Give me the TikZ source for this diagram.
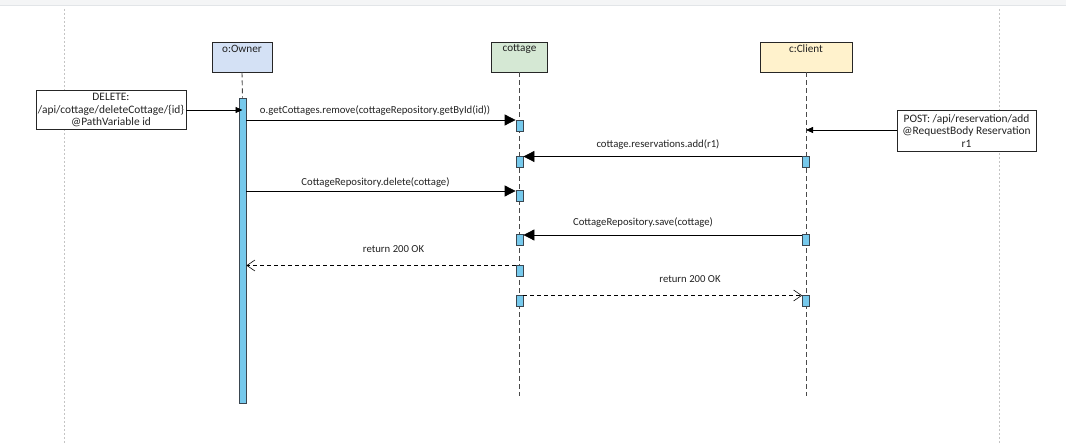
\documentclass[tikz,border=0pt]{standalone}
\usepackage{fontspec}
\setmainfont{Carlito}
\usetikzlibrary{arrows.meta,calc}
\definecolor{ownerfill}{HTML}{D4E1F5}
\definecolor{cottfill}{HTML}{D5E8D4}
\definecolor{clientfill}{HTML}{FFF2CC}
\definecolor{actfill}{HTML}{76C9EC}
\definecolor{actdraw}{HTML}{3A4650}
\definecolor{bandfill}{HTML}{F4F5F6}
\definecolor{bandline}{HTML}{E2E5E8}
\definecolor{guidecol}{HTML}{C4C4C4}
\definecolor{lifecol}{HTML}{4A4A4A}
\definecolor{txtcol}{HTML}{222222}
\begin{document}
\begin{tikzpicture}[x=1pt,y=-1pt,
  font=\fontsize{10.7}{12}\selectfont,
  text=txtcol,
  head/.style={draw=black!85, line width=0.9pt, minimum width=#1, minimum height=30pt, inner sep=0pt},
  headlabel/.style={anchor=north, inner sep=0pt, yshift=-3pt, font=\fontsize{11.2}{12}\selectfont},
  act/.style={draw=actdraw, fill=actfill, line width=0.8pt, minimum width=7pt, inner sep=0pt},
  lifeline/.style={draw=lifecol, line width=0.9pt, dash pattern=on 5pt off 3pt},
  guide/.style={draw=guidecol, line width=0.6pt, dash pattern=on 2pt off 2pt},
  msg/.style={draw=black, line width=0.8pt, -{Triangle[length=11pt,width=11pt]}},
  ret/.style={draw=black, line width=0.7pt, dash pattern=on 4pt off 3pt, -{Straight Barb[length=8pt,width=11pt,line width=0.6pt]}},
  note/.style={draw=black!85, line width=0.8pt, fill=white, align=center, inner sep=0pt, font=\fontsize{11.4}{12.4}\selectfont},
  small/.style={draw=black, line width=0.8pt, -{Triangle[length=7pt,width=6pt]}},
  mlabel/.style={inner sep=0pt, font=\fontsize{10.7}{12}\selectfont}
]
\useasboundingbox (0,0) rectangle (1066,443);
% top band
\fill[bandfill] (0,0) rectangle (1066,5);
\draw[bandline, line width=0.8pt] (0,5.5) -- (1066,5.5);
% guides
\coordinate (gl1) at (64,9);
\coordinate (gl2) at (64,443);
\coordinate (gr1) at (999,9);
\coordinate (gr2) at (999,443);
\draw[guide] (gl1) -- (gl2);
\draw[guide] (gr1) -- (gr2);

% heads
\node[head=60pt, fill=ownerfill] (owner) at (242,57) {};
\node[headlabel] (ownerL) at (owner.north) {o:Owner};
\node[head=56pt, fill=cottfill] (cott) at (519.5,57) {};
\node[headlabel] (cottL) at (cott.north) {cottage};
\node[head=92pt, fill=clientfill] (client) at (806,57) {};
\node[headlabel] (clientL) at (client.north) {c:Client};

% lifeline ends
\coordinate (cottEnd) at (519.5,396);
\coordinate (clientEnd) at (806,396);

% owner activation bar
\node[act, minimum height=305pt] (obar) at (242.5,250.5) {};
\draw[lifeline] (owner.south) -- (obar.north);
\draw[lifeline] (cott.south) -- (cottEnd);
\draw[lifeline] (client.south) -- (clientEnd);

% small activations on cottage
\node[act, minimum height=11pt] (c1) at (519.5,125.5) {};
\node[act, minimum height=11pt] (c2) at (519.5,161.5) {};
\node[act, minimum height=11pt] (c3) at (519.5,196) {};
\node[act, minimum height=11pt] (c4) at (519.5,240) {};
\node[act, minimum height=11pt] (c5) at (519.5,270.5) {};
\node[act, minimum height=11pt] (c6) at (519.5,300.5) {};
% small activations on client
\node[act, minimum height=11pt] (k2) at (806,161.5) {};
\node[act, minimum height=11pt] (k4) at (806,240) {};
\node[act, minimum height=11pt] (k6) at (806,300.5) {};

% message rows
\coordinate (y1) at (0,120);
\coordinate (y2) at (0,156.5);
\coordinate (y3) at (0,191);
\coordinate (y4) at (0,235);
\coordinate (y5) at (0,265.5);
\coordinate (y6) at (0,295.5);

\draw[msg] (obar.east |- y1) -- (c1.west |- y1);
\draw[msg] (k2.west |- y2) -- (c2.east |- y2);
\draw[msg] (obar.east |- y3) -- (c3.west |- y3);
\draw[msg] (k4.west |- y4) -- (c4.east |- y4);
\draw[ret] (c5.west |- y5) -- (obar.east |- y5);
\draw[ret] (c6.east |- y6) -- (k6.west |- y6);

% message labels
\node[mlabel] (l1) at (375,111) {o.getCottages.remove(cottageRepository.getById(id))};
\node[mlabel] (l2) at (658,145) {cottage.reservations.add(r1)};
\node[mlabel] (l3) at (375.5,183) {CottageRepository.delete(cottage)};
\node[mlabel] (l4) at (643,223) {CottageRepository.save(cottage)};
\node[mlabel] (l5) at (393.5,249) {return 200 OK};
\node[mlabel] (l6) at (690,279) {return 200 OK};

% request notes
\node[note, minimum width=150pt, minimum height=39pt] (del) at (111,110) {DELETE:\\/api/cottage/deleteCottage/\{id\}\\@PathVariable id};
\node[note, minimum width=139pt, minimum height=41.5pt] (post) at (966.5,131) {POST: /api/reservation/add\\@RequestBody Reservation\\r1};
\coordinate (ydel) at (0,110);
\coordinate (ypost) at (0,130);
\draw[small] (del.east |- ydel) -- (obar.center |- ydel);
\draw[small] (post.west |- ypost) -- (client.center |- ypost);
\end{tikzpicture}
\end{document}
